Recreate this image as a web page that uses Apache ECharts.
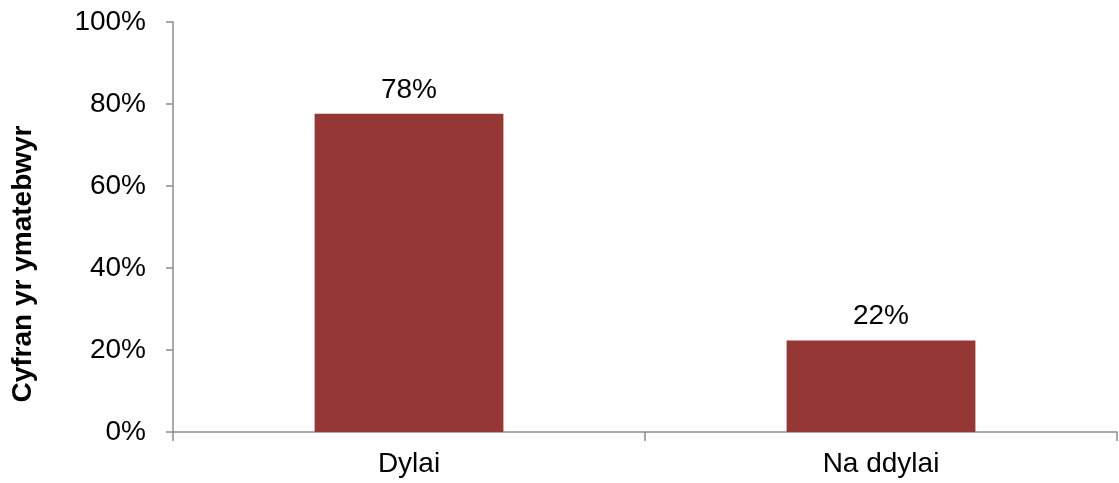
<!DOCTYPE html>
<html>
<head>
<meta charset="utf-8">
<script src="https://cdn.jsdelivr.net/npm/echarts@6/dist/echarts.min.js"></script>
<style>
html,body{margin:0;padding:0;background:#fff;}
#chart{width:1119px;height:483px;}
</style>
</head>
<body>
<div id="chart"></div>
<script>
var categories = ['Dylai', 'Na ddylai'];
var values = [77.6, 22.3];
var yTitle = 'Cyfran yr ymatebwyr';

var chart = echarts.init(document.getElementById('chart'), null, {renderer: 'canvas'});
chart.setOption({
  animation: false,
  backgroundColor: '#ffffff',
  grid: {left: 173, top: 22, right: 2, bottom: 51, containLabel: false, outerBoundsMode: 'none'},
  xAxis: {
    type: 'category',
    data: categories,
    axisLine: {lineStyle: {color: '#8c8c8c', width: 1.5}},
    axisTick: {show: true, alignWithLabel: false, length: 9, lineStyle: {color: '#8c8c8c', width: 1.5}},
    axisLabel: {color: '#000', fontFamily: 'Liberation Sans, Arial, sans-serif', fontSize: 28, margin: 18}
  },
  yAxis: {
    type: 'value',
    min: 0, max: 100, interval: 20,
    name: yTitle,
    nameLocation: 'middle',
    nameGap: 136,
    nameRotate: 90,
    nameTextStyle: {color: '#000', fontFamily: 'Liberation Sans, Arial, sans-serif', fontSize: 28, fontWeight: 'bold',
      padding: [0, 74, 0, 0]},
    splitLine: {show: false},
    axisLine: {show: true, lineStyle: {color: '#8c8c8c', width: 1.5}},
    axisTick: {show: true, length: 7, lineStyle: {color: '#8c8c8c', width: 1.5}},
    axisLabel: {color: '#000', fontFamily: 'Liberation Sans, Arial, sans-serif', fontSize: 28, margin: 27,
      formatter: function (v) { return v + '%'; }}
  },
  series: [{
    type: 'bar',
    data: values,
    barWidth: '40%',
    itemStyle: {color: '#953735'},
    label: {
      show: true, position: 'top', distance: 10,
      color: '#000', fontFamily: 'Liberation Sans, Arial, sans-serif', fontSize: 28,
      formatter: function (p) { return Math.round(p.value) + '%'; }
    }
  }]
});
</script>
</body>
</html>
